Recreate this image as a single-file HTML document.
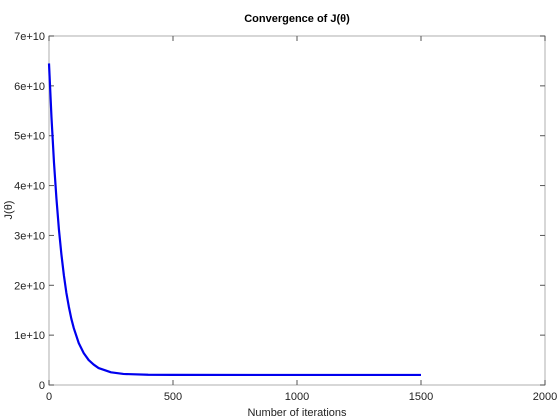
<!DOCTYPE html>
<html><head><meta charset="utf-8"><style>
body{margin:0;background:#fff;}
svg{display:block;font-family:"Liberation Sans",sans-serif;}
</style></head><body>
<svg id="chart" width="560" height="420">
<text x="297" y="22" text-anchor="middle" font-size="11" font-weight="bold" fill="#000">Convergence of J(θ)</text>
<text x="297" y="416" text-anchor="middle" font-size="11" fill="#222">Number of iterations</text>
<text transform="translate(12,210) rotate(-90)" text-anchor="middle" font-size="11" fill="#222">J(θ)</text>
<g id="axes"></g>
<g id="series"></g>
</svg>
<script>
const xTicks=[0,500,1000,1500,2000];
const yTicks=[0,1e10,2e10,3e10,4e10,5e10,6e10,7e10];
const yTickLabels=["0","1e+10","2e+10","3e+10","4e+10","5e+10","6e+10","7e+10"];
const iterations=[0,10,20,30,40,50,60,70,80,90,100,120,140,160,180,200,250,300,400,500,1000,1500];
const costValues=[6.45e10,5.37e10,4.47e10,3.74e10,3.12e10,2.62e10,2.20e10,1.85e10,1.57e10,1.33e10,1.14e10,0.84e10,0.64e10,0.50e10,0.41e10,0.34e10,0.254e10,0.222e10,0.205e10,0.203e10,0.202e10,0.202e10];

const L=49,R=545,T=36,B=385;
const xS=v=>L+(v-0)/(2000-0)*(R-L);
const yS=v=>B-(v-0)/(7e10-0)*(B-T);
const NS="http://www.w3.org/2000/svg";
const axes=document.getElementById('axes');
function mk(tag,attrs,parent){const e=document.createElementNS(NS,tag);for(const k in attrs)e.setAttribute(k,attrs[k]);parent.appendChild(e);return e;}
const frame=mk('rect',{x:L,y:T,width:R-L,height:B-T,fill:'none',stroke:'#bcbcbc','stroke-width':1.2},axes);


xTicks.forEach(v=>{
  const x=xS(v);
  const t1=mk('line',{x1:x,x2:x,y1:B,y2:B-5,stroke:'#555','stroke-width':1},axes);
  
  
  const t2=mk('line',{x1:x,x2:x,y1:T,y2:T+5,stroke:'#555','stroke-width':1},axes);
  
  
  const lb=mk('text',{x:x,y:B+15,'text-anchor':'middle','font-size':11,fill:'#222'},axes);
  lb.textContent=String(v);
  
  
});
yTicks.forEach((v,i)=>{
  const y=yS(v);
  const t1=mk('line',{x1:L,x2:L+5,y1:y,y2:y,stroke:'#555','stroke-width':1},axes);
  
  
  const t2=mk('line',{x1:R,x2:R-5,y1:y,y2:y,stroke:'#555','stroke-width':1},axes);
  
  
  const lb=mk('text',{x:L-4,y:y+4,'text-anchor':'end','font-size':11,fill:'#222'},axes);
  lb.textContent=yTickLabels[i];
  
  
});
const pts=iterations.map((it,i)=>xS(it).toFixed(2)+','+yS(costValues[i]).toFixed(2)).join(' ');
const line=mk('polyline',{points:pts,fill:'none',stroke:'#0000ee','stroke-width':2.2,'stroke-linejoin':'round'},document.getElementById('series'));


</script>
</body></html>
